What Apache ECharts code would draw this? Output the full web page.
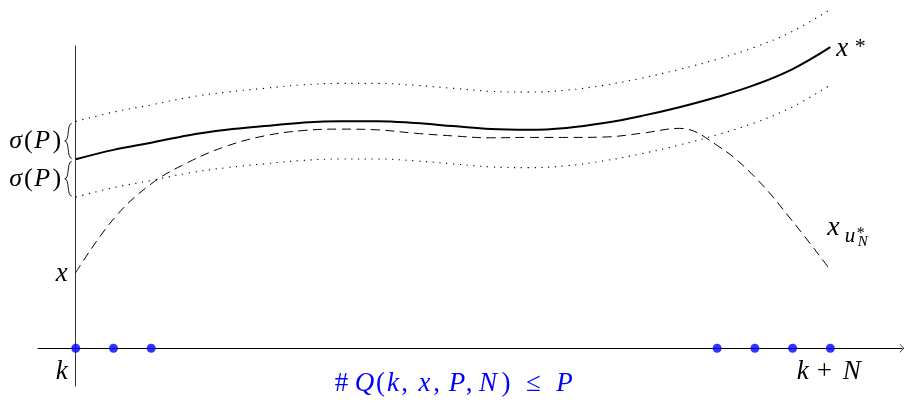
<!DOCTYPE html>
<html><head><meta charset="utf-8">
<script src="https://cdn.jsdelivr.net/npm/echarts@6/dist/echarts.min.js"></script>
<style>html,body{margin:0;padding:0;background:#fff}#c{width:909px;height:403px}</style>
</head><body><div id="c"></div>
<script>
// time steps k ... k+N
const steps = [0,1,2,3,4,5,6,7,8,9,10,11,12,13,14,15,16,17,18,19,20];
// optimal trajectory x*
const xStar = [5.00,5.25,5.44,5.64,5.78,5.88,5.97,6.01,6.01,5.96,5.88,5.80,5.78,5.83,5.96,6.15,6.38,6.65,6.97,7.39,7.97];
// trajectory x_{u*_N}
const xU = [2.00,3.42,4.35,4.93,5.35,5.62,5.76,5.80,5.78,5.69,5.62,5.57,5.58,5.58,5.59,5.69,5.82,5.37,4.53,3.36,2.07];
// band half-width sigma(P)
const sigma = 1;
// time instants in Q(k,x,P,N)
const qSteps = [0,1,2,17,18,19,20];

const MATH = 'Liberation Serif';
const chart = echarts.init(document.getElementById('c'), null, {renderer:'canvas'});
const toPairs = (arr, off) => steps.map((s,i) => [s, arr[i] + off]);

chart.setOption({
  animation: false,
  backgroundColor: '#fff',
  grid: {left: 38, right: 7, top: 46, bottom: 17},
  xAxis: {
    type: 'value', min: -1, max: 21.9,
    axisLine: {show: true, onZero: true,
      symbol: ['none', 'path://M0,8 L8,0 L16,8 L14.6,8 L8,1.6 L1.4,8 Z'],
      symbolSize: [9, 5],
      lineStyle: {color: '#000', width: 1}},
    axisTick: {show: false}, axisLabel: {show: false}, splitLine: {show: false}
  },
  yAxis: {
    type: 'value', min: -1, max: 8,
    axisLine: {show: true, onZero: true, lineStyle: {color: '#333', width: 1}},
    axisTick: {show: false}, axisLabel: {show: false}, splitLine: {show: false}
  },
  series: [
    {type: 'line', data: toPairs(xStar, sigma), smooth: 0.4, symbol: 'none', clip: false,
     lineStyle: {color: '#000', width: 1.1, type: [1.2, 5.6], cap: 'butt'}},
    {type: 'line', data: toPairs(xStar, -sigma), smooth: 0.4, symbol: 'none', clip: false,
     lineStyle: {color: '#000', width: 1.1, type: [1.2, 5.6], cap: 'butt'}},
    {type: 'line', data: toPairs(xStar, 0), smooth: 0.4, symbol: 'none', clip: false,
     lineStyle: {color: '#000', width: 2}},
    {type: 'line', data: toPairs(xU, 0), smooth: 0.4, symbol: 'none', clip: false,
     lineStyle: {color: '#000', width: 1, type: [9, 5.5]}},
    {type: 'scatter', data: qSteps.map(s => [s, 0]), symbolSize: 9, z: 5,
     itemStyle: {color: '#0000ff'}}
  ]
});

function P(x, y) { return chart.convertToPixel({gridIndex: 0}, [x, y]); }
function fnt(size, italic) { return (italic ? 'italic ' : '') + size + 'px "' + MATH + '"'; }
function txt(str, x, y, size, align, italic) {
  return {type: 'text', z: 10, style: {
    text: str, x: x, y: y, fill: '#000', font: fnt(size, italic),
    textAlign: align, align: align, textVerticalAlign: 'middle', verticalAlign: 'middle'}};
}
// tokens: [text, italic, slot width px]; each glyph centred in its slot
function mathTxt(tokens, x, y, size, align, color) {
  const rich = {};
  const parts = tokens.map((t, i) => {
    rich['t' + i] = {font: fnt(size, t[1]), fill: color, width: t[2], align: 'center'};
    return '{t' + i + '|' + t[0] + '}';
  });
  return {type: 'text', z: 10, style: {
    text: parts.join(''), x: x, y: y, fill: color, font: fnt(size, true),
    textAlign: align, align: align, textVerticalAlign: 'middle', verticalAlign: 'middle',
    rich: rich}};
}
function brace(xr, yt, yb) {
  const xm = xr - 3.5, xl = xr - 7, ym = (yt + yb) / 2;
  const st = {stroke: '#000', lineWidth: 0.9, fill: 'none'};
  return [
    {type: 'bezierCurve', z: 10, shape: {x1: xr, y1: yt, cpx1: xm - 1.5, cpy1: yt, cpx2: xm + 1.5, cpy2: ym, x2: xl, y2: ym}, style: st},
    {type: 'bezierCurve', z: 10, shape: {x1: xl, y1: ym, cpx1: xm + 1.5, cpy1: ym, cpx2: xm - 1.5, cpy2: yb, x2: xr, y2: yb}, style: st}
  ];
}

const o = P(0, 0);
const up = P(0, xStar[0] + sigma), mid = P(0, xStar[0]), lo = P(0, xStar[0] - sigma);
const endStar = P(20, xStar[20]);
const endU = P(20, xU[20]);
const startU = P(0, xU[0]);
const kN = P(20, 0);
const qMid = P(10, 0);

const sigmaTok = [['σ', true, 16], ['(', false, 9], ['P', true, 19], [')', false, 10]];
const kNTok = [['k', true, 18], ['+', false, 25], ['N', true, 30]];
const qTok = [['#', false, 22], ['Q', true, 24], ['(', false, 8], ['k', true, 17], [',', false, 6], [' ', false, 8],
              ['x', true, 18], [',', false, 6], [' ', false, 8], ['P', true, 19], [',', false, 5], [' ', false, 3],
              ['N', true, 27], [')', false, 9], [' ', false, 13], ['≤', false, 20], [' ', false, 10], ['P', true, 22]];

const g = [];
g.push(...brace(o[0] - 4, up[1] + 2, mid[1] - 1));
g.push(...brace(o[0] - 4, mid[1] + 2, lo[1] - 1));
g.push(mathTxt(sigmaTok, o[0] - 14, (up[1] + mid[1]) / 2 + 1, 26, 'right', '#000'));
g.push(mathTxt(sigmaTok, o[0] - 14, (mid[1] + lo[1]) / 2 + 1, 26, 'right', '#000'));
g.push(txt('x', o[0] - 8, startU[1] + 1.5, 27, 'right', true));
g.push(txt('k', o[0] - 8, o[1] + 24, 27, 'right', true));
g.push(mathTxt(kNTok, kN[0], o[1] + 24, 27, 'center', '#000'));
g.push(txt('x', endStar[0] + 6, endStar[1] + 2, 27, 'left', true));
g.push(txt('*', endStar[0] + 24.5, endStar[1] + 0.5, 22, 'left', false));
g.push(txt('x', endU[0] - 3, endU[1] - 42, 28, 'left', true));
g.push(txt('u', endU[0] + 14.5, endU[1] - 33.3, 21, 'left', true));
g.push(txt('*', endU[0] + 26.5, endU[1] - 36.6, 16, 'left', false));
g.push(txt('N', endU[0] + 27.5, endU[1] - 27.5, 15, 'left', true));
g.push(mathTxt(qTok, qMid[0], o[1] + 35.7, 27, 'center', '#0000ff'));

chart.setOption({graphic: g});
</script></body></html>
